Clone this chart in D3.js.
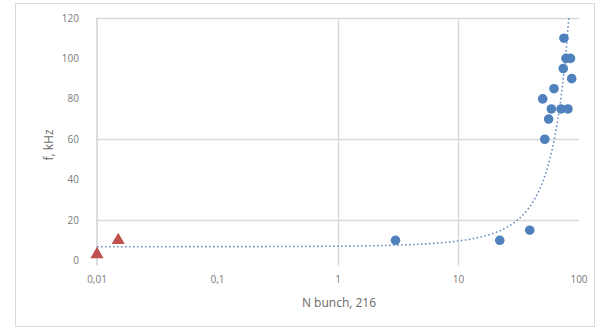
<!DOCTYPE html>
<html>
<head>
<meta charset="utf-8">
<script src="https://cdnjs.cloudflare.com/ajax/libs/d3/7.8.5/d3.min.js"></script>
<style>
  body { margin: 0; background: #fff; }
  svg { display: block; font-family: "Open Sans", "Liberation Sans", sans-serif; }
</style>
</head>
<body>
<div id="chart"></div>
<script>
// measured points (blue circles)
var bunchX = [3, 22, 39, 52, 50, 56, 59, 62, 71, 81, 75, 78, 85, 74, 87];
var freqY  = [10, 10, 15, 60, 80, 70, 75, 85, 75, 75, 110, 100, 100, 95, 90];
// second series (red triangles)
var redX = [0.01, 0.015];
var redY = [3, 10];

var xTicks = [0.01, 0.1, 1, 10, 100];
var xTickLabels = ["0,01", "0,1", "1", "10", "100"];
var yTicks = [0, 20, 40, 60, 80, 100, 120];
var yGrid = [20, 60, 120];
var xGrid = [1, 10];

d3.select(window).on('load', init);

function init() {
    var width = 609, height = 329;

    var svg = d3.select("#chart").append("svg")
        .attr("width", width)
        .attr("height", height);

    // chart border
    svg.append("rect")
        .attr("x", 15.5).attr("y", 3.5)
        .attr("width", 579).attr("height", 323)
        .style("fill", "none")
        .style("stroke", "#d9d9d9");

    var x = d3.scaleLog().domain([0.01, 100]).range([97, 579]);
    var y = d3.scaleLinear().domain([0, 120]).range([260.5, 18]);

    // gridlines
    svg.selectAll(".hgrid")
        .data(yGrid)
        .enter().append("line")
        .attr("x1", x(0.01)).attr("x2", x(100))
        .attr("y1", function(d) { return Math.round(y(d)) + 0.5; })
        .attr("y2", function(d) { return Math.round(y(d)) + 0.5; })
        .style("stroke", "#d9d9d9").style("stroke-width", 1.5);

    svg.selectAll(".vgrid")
        .data(xGrid)
        .enter().append("line")
        .attr("x1", function(d) { return Math.round(x(d)) + 0.5; })
        .attr("x2", function(d) { return Math.round(x(d)) + 0.5; })
        .attr("y1", y(120)).attr("y2", y(0) + 5)
        .style("stroke", "#d9d9d9").style("stroke-width", 1.5);

    // y axis line
    svg.append("line")
        .attr("x1", x(0.01)).attr("x2", x(0.01))
        .attr("y1", y(120)).attr("y2", y(0) + 5)
        .style("stroke", "#d0d0d0").style("stroke-width", 1.5);

    // tick labels
    svg.selectAll(".ylab")
        .data(yTicks)
        .enter().append("text")
        .attr("x", 79)
        .attr("y", function(d) { return y(d); })
        .attr("dy", "0.35em")
        .attr("text-anchor", "end")
        .attr("font-size", "10px")
        .style("fill", "#7a7a7a")
        .text(function(d) { return d; });

    svg.selectAll(".xlab")
        .data(xTicks)
        .enter().append("text")
        .attr("x", function(d) { return x(d); })
        .attr("y", 283)
        .attr("text-anchor", "middle")
        .attr("font-size", "10px")
        .style("fill", "#7a7a7a")
        .text(function(d, i) { return xTickLabels[i]; });

    // axis titles
    svg.append("text")
        .attr("x", 339).attr("y", 307)
        .attr("text-anchor", "middle")
        .attr("font-size", "12px")
        .style("fill", "#6a6a6a")
        .text("N bunch, 216");

    svg.append("text")
        .attr("transform", "translate(53,145) rotate(-90)")
        .attr("text-anchor", "middle")
        .attr("font-size", "12px")
        .style("fill", "#6a6a6a")
        .text("f, kHz");

    // exponential trendline, least squares on ln(y) over all points
    var allX = bunchX.concat(redX), allY = freqY.concat(redY);
    var n = allX.length;
    var mx = d3.mean(allX), my = d3.mean(allY, function(v) { return Math.log(v); });
    var sxy = 0, sxx = 0;
    for (var i = 0; i < n; i++) {
        sxy += (allX[i] - mx) * (Math.log(allY[i]) - my);
        sxx += (allX[i] - mx) * (allX[i] - mx);
    }
    var b = sxy / sxx, a = Math.exp(my - b * mx);
    var xMin = d3.min(allX), xMax = d3.max(allX);
    var trend = d3.range(0, 301).map(function(k) {
        var xv = xMin * Math.pow(xMax / xMin, k / 300);
        return [xv, a * Math.exp(b * xv)];
    });

    svg.append("clipPath").attr("id", "plotclip")
        .append("rect")
        .attr("x", x(0.01)).attr("y", y(120))
        .attr("width", x(100) - x(0.01)).attr("height", y(0) - y(120) + 10);

    svg.append("path")
        .datum(trend)
        .attr("clip-path", "url(#plotclip)")
        .attr("d", d3.line()
            .x(function(d) { return x(d[0]); })
            .y(function(d) { return y(d[1]); }))
        .style("fill", "none")
        .style("stroke", "#6d8fbd")
        .style("stroke-width", 1.6)
        .style("stroke-dasharray", "1.6,2.4");

    // blue circles
    svg.selectAll(".pt")
        .data(bunchX)
        .enter().append("circle")
        .attr("cx", function(d) { return x(d); })
        .attr("cy", function(d, i) { return y(freqY[i]); })
        .attr("r", 4.8)
        .style("fill", "#4f81bd");

    // red triangles
    svg.selectAll(".tri")
        .data(redX)
        .enter().append("path")
        .attr("transform", function(d, i) {
            return "translate(" + x(d) + "," + y(redY[i]) + ")";
        })
        .attr("d", d3.symbol().type(d3.symbolTriangle).size(75))
        .style("fill", "#c0504d");
}
</script>
</body>
</html>
